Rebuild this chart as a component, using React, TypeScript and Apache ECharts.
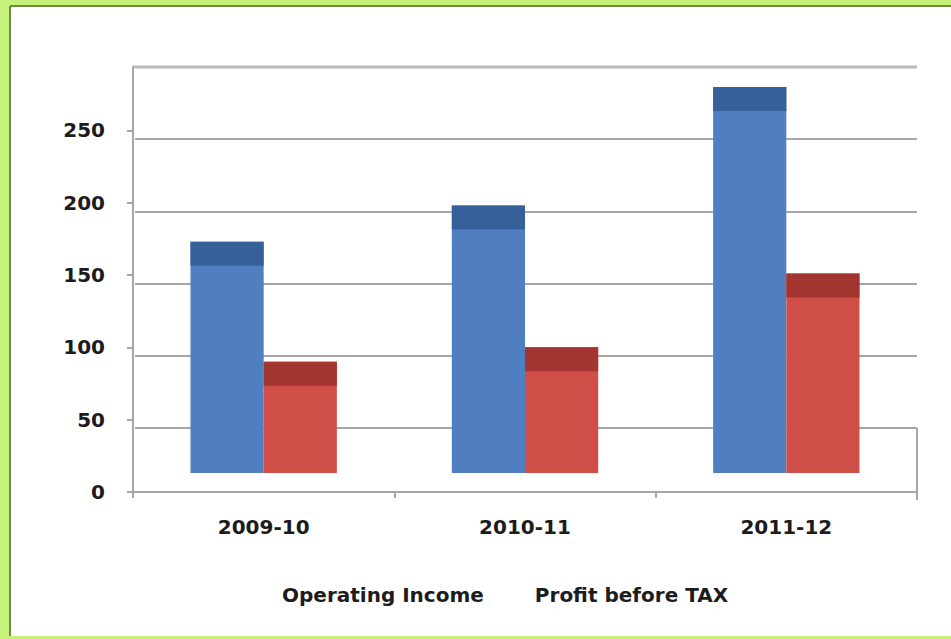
import React, { useEffect, useRef } from "react";
import * as echarts from "echarts";

const categories = ["2009-10", "2010-11", "2011-12"];
const operatingIncome = [173, 198, 280];
const profitBeforeTax = [90, 100, 151];
const yMin = 0;
const yMax = 300;
const yInterval = 50;
const yTickValues = [0, 50, 100, 150, 200, 250];

const seriesDefs = [
  { name: "Operating Income", values: operatingIncome, front: "#4f7fc0", cap: "#36609a", side: 0 },
  { name: "Profit before TAX", values: profitBeforeTax, front: "#cf4f48", cap: "#a2352f", side: 1 },
];

export default function App() {
  const ref = useRef<HTMLDivElement>(null);
  useEffect(() => {
    if (!ref.current) return;
    const chart = echarts.init(ref.current, null, { renderer: "svg" });
    const font = "DejaVu Sans";
    const textColor = "#1c1c1c";
    const gridColor = "#a6a6a6";
    const option: any = {
      animation: false,
      backgroundColor: "#c6f27c",
      textStyle: { fontFamily: font },
      graphic: [
        {
          type: "rect",
          z: -10,
          silent: true,
          shape: { x: 10, y: 6, width: 941, height: 630 },
          style: { fill: "#ffffff" },
        },
        {
          type: "line",
          z: -9,
          silent: true,
          shape: { x1: 10, y1: 6, x2: 10, y2: 636 },
          style: { stroke: "#6f8d3e", lineWidth: 2 },
        },
        {
          type: "line",
          z: -9,
          silent: true,
          shape: { x1: 10, y1: 6, x2: 951, y2: 6 },
          style: { stroke: "#6f8d3e", lineWidth: 2 },
        },
        {
          type: "line",
          z: 1,
          silent: true,
          shape: { x1: 133, y1: 66, x2: 133, y2: 493 },
          style: { stroke: gridColor, lineWidth: 2 },
        },
        {
          type: "line",
          z: 1,
          silent: true,
          shape: { x1: 133, y1: 67, x2: 917, y2: 67 },
          style: { stroke: "#b8b8b8", lineWidth: 3 },
        },
        {
          type: "line",
          z: 1,
          silent: true,
          shape: { x1: 917, y1: 428, x2: 917, y2: 500 },
          style: { stroke: gridColor, lineWidth: 2 },
        },
      ],
      legend: {
        left: 272,
        top: 580,
        itemWidth: 0,
        itemHeight: 0,
        itemGap: 46,
        textStyle: { fontFamily: font, fontSize: 20, fontWeight: "bold", color: textColor },
        data: seriesDefs.map((s) => s.name),
      },
      grid: [
        { left: 133, right: 34, top: 58, bottom: 147 },
        { left: 135, right: 34, top: 67, bottom: 211 },
      ],
      xAxis: [
        {
          type: "category",
          gridIndex: 0,
          data: categories,
          axisLine: { lineStyle: { color: gridColor, width: 2 } },
          axisTick: { show: true, length: 6, lineStyle: { color: gridColor, width: 2 } },
          axisLabel: { fontFamily: font, fontSize: 20, fontWeight: "bold", color: textColor, margin: 25 },
        },
        { type: "category", gridIndex: 1, data: categories, show: false },
      ],
      yAxis: [
        {
          type: "value",
          gridIndex: 0,
          min: yMin,
          max: yMax,
          interval: yInterval,
          axisLine: { show: false },
          axisTick: {
            show: true,
            length: 6,
            customValues: yTickValues,
            lineStyle: { color: gridColor, width: 2 },
          },
          axisLabel: {
            fontFamily: font,
            fontSize: 20,
            fontWeight: "bold",
            color: textColor,
            margin: 28,
            customValues: yTickValues,
          },
          splitLine: { show: false },
        },
        {
          type: "value",
          gridIndex: 1,
          min: yMin + yInterval,
          max: yMax,
          interval: yInterval,
          axisLine: { show: false },
          axisTick: { show: false },
          axisLabel: { show: false },
          splitLine: { show: true, lineStyle: { color: gridColor, width: 2 } },
        },
      ],
      series: seriesDefs.map((s) => ({
        type: "custom",
        name: s.name,
        xAxisIndex: 0,
        yAxisIndex: 0,
        z: 5,
        itemStyle: { color: s.front },
        encode: { x: 0, y: 1 },
        data: s.values.map((v, i) => [i, v]),
        renderItem: (params: any, api: any) => {
          const i = api.value(0);
          const v = api.value(1);
          const pt = api.coord([i, v]);
          const base = api.coord([i, 0])[1] - 19;
          const band = api.size([1, 0])[0];
          const w = band * 0.28;
          const x0 = s.side === 0 ? pt[0] - w : pt[0];
          const top = pt[1];
          return {
            type: "group",
            children: [
              {
                type: "rect",
                shape: { x: x0, y: top, width: w, height: base - top },
                style: { fill: s.front },
              },
              {
                type: "rect",
                shape: { x: x0, y: top, width: w, height: 24 },
                style: { fill: s.cap },
              },
            ],
          };
        },
      })),
    };
    chart.setOption(option);
    return () => chart.dispose();
  }, []);
  return (
    <div
      ref={ref}
      style={{ position: "absolute", left: 0, top: 0, width: 951, height: 639 }}
    />
  );
}
